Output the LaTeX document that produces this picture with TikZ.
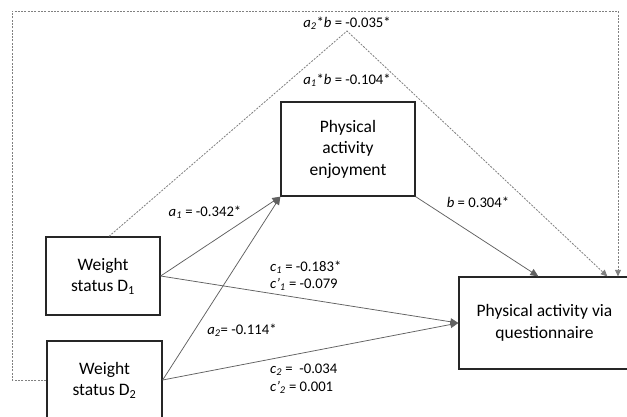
\documentclass[tikz,border=0pt]{standalone}
\usepackage{fontspec}
\setmainfont{Carlito}
\usetikzlibrary{arrows.meta}
\begin{document}
\begin{tikzpicture}[x=1pt,y=-1pt,
  box/.style={draw=black!85, line width=1.3pt, inner sep=0pt, align=center,
    font=\fontsize{17.5}{21.5}\selectfont},
  lbl/.style={font=\fontsize{14.7}{17}\selectfont, inner sep=0pt},
  solidarr/.style={draw=black!62, line width=0.75pt,
    -{Triangle[length=8pt,width=7pt]}},
  dotarr/.style={draw=black!50, line width=0.8pt, dash pattern=on 2pt off 1.3pt,
    -{Triangle[length=6.5pt,width=6pt]}}
]
\useasboundingbox (0,0) rectangle (627,416);
\fill[white] (0,0) rectangle (627,416);
\clip (0,0) rectangle (627,416);

\node[box, minimum width=134pt, minimum height=94pt] (enj) at (348,149)
  {Physical\\activity\\enjoyment};
\node[box, minimum width=114pt, minimum height=78pt] (d1) at (103,276)
  {Weight\\status D\textsubscript{1}};
\node[box, minimum width=115pt, minimum height=78pt] (d2) at (104.5,380)
  {Weight\\status D\textsubscript{2}};
\node[box, minimum width=171pt, minimum height=92pt] (pa) at (544.5,323)
  {Physical activity via\\questionnaire};

\path (pa.north west) ++(80,0) coordinate (pb);
\path (pa.north west) ++(149,0) coordinate (pc);
\path (d1.north) ++(6,0) coordinate (d1t);
\coordinate (apex) at (347,31);
\coordinate (tl) at (12,11);
\coordinate (tr) at (618,11);

% solid paths
\draw[solidarr] (d1.east) -- (enj.south west);
\draw[solidarr] (d2.east) -- (enj.south west);
\draw[solidarr] (d1.east) -- (pa.west);
\draw[solidarr] (d2.east) -- (pa.west);
\draw[solidarr] (enj.south east) -- (pb);

% indirect paths
\draw[dotarr] (d1t) -- (apex) -- (pc);
\draw[dotarr] (d2.west) -- (d2.west -| tl) -- (tl) -- (tr) -- (tr |- pa.north);

% labels
\node[lbl] (l1) at (347,23) {\textit{a}\textsubscript{\textit{2}}*\textit{b} = -0.035*};
\node[lbl] (l2) at (347,80) {\textit{a}\textsubscript{\textit{1}}*\textit{b} = -0.104*};
\node[lbl] (l3) at (205,212) {\textit{a}\textsubscript{\textit{1}} = -0.342*};
\node[lbl] (l4) at (242,330) {\textit{a}\textsubscript{\textit{2}}= -0.114*};
\node[lbl, anchor=west] (l5) at (270,267) {\textit{c}\textsubscript{\textit{1}} = -0.183*};
\node[lbl, anchor=west] (l6) at (270,284) {\textit{c’}\textsubscript{\textit{1}} = -0.079};
\node[lbl, anchor=west] (l7) at (270,370) {\textit{c}\textsubscript{\textit{2}} =\ \ -0.034};
\node[lbl, anchor=west] (l8) at (270,387) {\textit{c’}\textsubscript{\textit{2}} = 0.001};
\node[lbl] (l9) at (478,202) {\textit{b} = 0.304*};
\end{tikzpicture}
\end{document}
